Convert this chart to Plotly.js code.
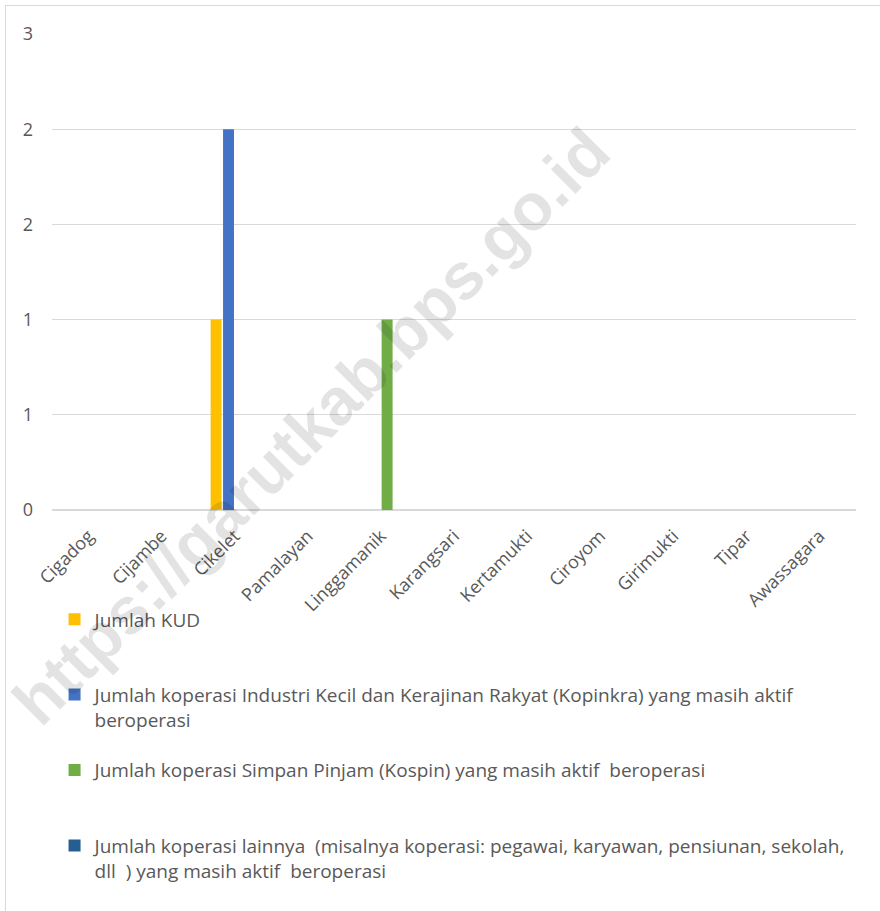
<!DOCTYPE html>
<html>
<head>
<meta charset="utf-8">
<script src="https://cdn.plot.ly/plotly-3.0.1.min.js"></script>
<style>
html,body{margin:0;padding:0;background:#fff;}
#wrap{position:relative;width:880px;height:911px;}
#chart{width:880px;height:911px;}
#frame{position:absolute;left:5px;top:5px;right:-2px;bottom:-2px;border-left:1.5px solid #d9d9d9;border-top:1.5px solid #d9d9d9;pointer-events:none;}
</style>
</head>
<body>
<div id="wrap"><div id="chart"></div><div id="frame"></div></div>
<script>
const categories = ["Cigadog","Cijambe","Cikelet","Pamalayan","Linggamanik","Karangsari","Kertamukti","Ciroyom","Girimukti","Tipar","Awassagara"];
const blankLine = "<br><span style='color:rgba(0,0,0,0)'>.</span>";
const seriesNames = [
  "Jumlah KUD" + blankLine,
  "Jumlah koperasi Industri Kecil dan Kerajinan Rakyat (Kopinkra) yang masih aktif<br>beroperasi",
  "Jumlah koperasi Simpan Pinjam (Kospin) yang masih aktif  beroperasi" + blankLine,
  "Jumlah koperasi lainnya  (misalnya koperasi: pegawai, karyawan, pensiunan, sekolah,<br>dll  ) yang masih aktif  beroperasi"
];
const kud      = [0,0,1,0,0,0,0,0,0,0,0];
const kopinkra = [0,0,2,0,0,0,0,0,0,0,0];
const kospin   = [0,0,0,0,1,0,0,0,0,0,0];
const lainnya  = [0,0,0,0,0,0,0,0,0,0,0];
const yTickVals = [0,0.5,1,1.5,2,2.5];
const yTickText = ["0","1","1","2","2","3"];
const colors = ["#FFC000","#4472C4","#70AD47","#255E91"];
const watermark = "https://garutkab.bps.go.id";

const seriesValues = [kud, kopinkra, kospin, lainnya];
const traces = seriesValues.map((v,i)=>({
  type:"bar", x:categories, y:v, name:seriesNames[i],
  marker:{color:colors[i]}, legendgroup:"g"+i, hoverinfo:"skip"
}));

const font = "'Open Sans', 'Noto Sans', sans-serif";
const layout = {
  width:880, height:911,
  margin:{l:52,r:24,t:34,b:401,autoexpand:false},
  paper_bgcolor:"#fff", plot_bgcolor:"#fff",
  barmode:"group", bargap:0.32, bargroupgap:0.12,
  showlegend:true,
  legend:{
    orientation:"v", xref:"container", yref:"container",
    x:0.062, y:0.341, xanchor:"left", yanchor:"top",
    valign:"top", tracegroupgap:23, traceorder:"grouped",
    bgcolor:"rgba(0,0,0,0)",
    font:{family:font,size:19,color:"#595959"}
  },
  xaxis:{
    type:"category", tickangle:-45, showgrid:false, showline:false,
    zeroline:false, ticks:"", ticklabelstandoff:11, automargin:false,
    tickfont:{family:font,size:18,color:"#595959"}
  },
  yaxis:{
    range:[0,2.5], tickvals:yTickVals, ticktext:yTickText,
    showgrid:true, gridcolor:"#d9d9d9", gridwidth:1.3,
    zeroline:true, zerolinecolor:"#d9d9d9", zerolinewidth:1.3,
    showline:false, ticks:"", ticklabelstandoff:18, automargin:false,
    tickfont:{family:font,size:18,color:"#595959"}
  },
  annotations:[{
    text:watermark, xref:"paper", yref:"paper",
    x:0.322, y:0.176, xanchor:"center", yanchor:"middle",
    showarrow:false, textangle:-45,
    font:{family:"'Liberation Sans', Arial, sans-serif", size:66, color:"rgba(0,0,0,0.11)", weight:700}
  }]
};
Plotly.newPlot("chart", traces, layout, {staticPlot:true});
</script>
</body>
</html>
